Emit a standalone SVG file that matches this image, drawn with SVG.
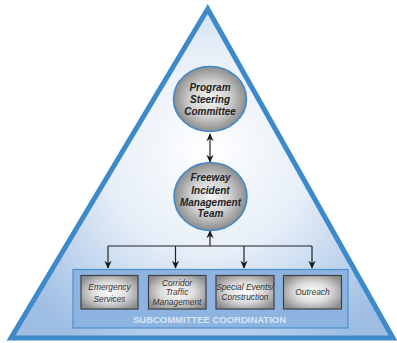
<svg xmlns="http://www.w3.org/2000/svg" width="397" height="343" viewBox="0 0 397 343">
<defs>
<radialGradient id="triG" cx="208" cy="150" r="230" gradientUnits="userSpaceOnUse">
<stop offset="0" stop-color="#ffffff"/>
<stop offset="0.45" stop-color="#e6eef8"/>
<stop offset="1" stop-color="#9dbde3"/>
</radialGradient>
<radialGradient id="circG" cx="0.5" cy="0.5" r="0.5">
<stop offset="0" stop-color="#f4f4f4"/>
<stop offset="0.55" stop-color="#d0d0d0"/>
<stop offset="1" stop-color="#8c8c8c"/>
</radialGradient>
<radialGradient id="boxG" cx="0.5" cy="0.5" r="0.6">
<stop offset="0" stop-color="#ffffff"/>
<stop offset="0.5" stop-color="#dcdcdc"/>
<stop offset="1" stop-color="#8e8e8e"/>
</radialGradient>
<marker id="ah" viewBox="0 0 10 10" refX="9" refY="5" markerWidth="8" markerHeight="8" orient="auto-start-reverse" markerUnits="userSpaceOnUse">
<path d="M0,0.5 L10,5 L0,9.5 L3,5 Z" fill="#1a1a1a"/>
</marker>
</defs>
<style>
.circ{fill:url(#circG);stroke:#3c88c8;stroke-width:1.5}
.ct{font-family:"Liberation Sans",Arial,sans-serif;font-weight:bold;font-style:italic;font-size:10px;fill:#222;text-anchor:middle}
.box{fill:url(#boxG);stroke:#404040;stroke-width:1.2}
.bt{font-family:"Liberation Sans",Arial,sans-serif;font-style:italic;font-size:8.4px;fill:#333;text-anchor:middle}
.con{fill:none;stroke:#222;stroke-width:1.2}
</style>
<g id="pyramid">
<polygon points="207.7,9 11,338 393,338" fill="url(#triG)" stroke="#3d89c9" stroke-width="5" stroke-linejoin="miter"/>
</g>
<g id="connectors">
<line class="con" x1="210" y1="134" x2="210" y2="162" marker-start="url(#ah)" marker-end="url(#ah)"/>
<line class="con" x1="210" y1="246" x2="210" y2="231" marker-end="url(#ah)"/>
<line class="con" x1="108" y1="246" x2="312" y2="246"/>
<line class="con" x1="108" y1="246" x2="108" y2="268" marker-end="url(#ah)"/>
<line class="con" x1="175.5" y1="246" x2="175.5" y2="268" marker-end="url(#ah)"/>
<line class="con" x1="244" y1="246" x2="244" y2="268" marker-end="url(#ah)"/>
<line class="con" x1="312" y1="246" x2="312" y2="268" marker-end="url(#ah)"/>
</g>
<g id="program-steering-committee">
<ellipse class="circ" cx="210" cy="99" rx="36.5" ry="32.5"/>
<text class="ct" x="210" y="90.5">Program</text>
<text class="ct" x="210" y="103">Steering</text>
<text class="ct" x="210" y="115">Committee</text>
</g>
<g id="freeway-incident-management-team">
<ellipse class="circ" cx="210.5" cy="196.5" rx="36.5" ry="34"/>
<text class="ct" x="210.5" y="181">Freeway</text>
<text class="ct" x="210.5" y="194">Incident</text>
<text class="ct" x="210.5" y="205.7">Management</text>
<text class="ct" x="210.5" y="217">Team</text>
</g>
<g id="subcommittee-coordination">
<rect x="73" y="269.5" width="275" height="58.5" fill="#8db3e0" stroke="#4a90d0" stroke-width="1.2"/>
<text x="209.5" y="323.3" font-family="Liberation Sans,Arial,sans-serif" font-weight="bold" font-size="9" fill="#d8e6f6" text-anchor="middle" textLength="153" lengthAdjust="spacingAndGlyphs">SUBCOMMITTEE COORDINATION</text>
</g>
<g id="emergency-services">
<rect class="box" x="81" y="275.5" width="57" height="33.5"/>
<text class="bt" x="109.5" y="290">Emergency</text>
<text class="bt" x="109.5" y="301.5">Services</text>
</g>
<g id="corridor-traffic-management">
<rect class="box" x="148.5" y="275.5" width="57.5" height="33.5"/>
<text class="bt" x="177" y="285.5">Corridor</text>
<text class="bt" x="177" y="295">Traffic</text>
<text class="bt" x="177" y="305">Management</text>
</g>
<g id="special-events-construction">
<rect class="box" x="216" y="275.5" width="58" height="33.5"/>
<text class="bt" x="245" y="290">Special Events/</text>
<text class="bt" x="245" y="300">Construction</text>
</g>
<g id="outreach">
<rect class="box" x="283.5" y="275.5" width="58" height="33.5"/>
<text class="bt" x="312.5" y="295">Outreach</text>
</g>
</svg>
